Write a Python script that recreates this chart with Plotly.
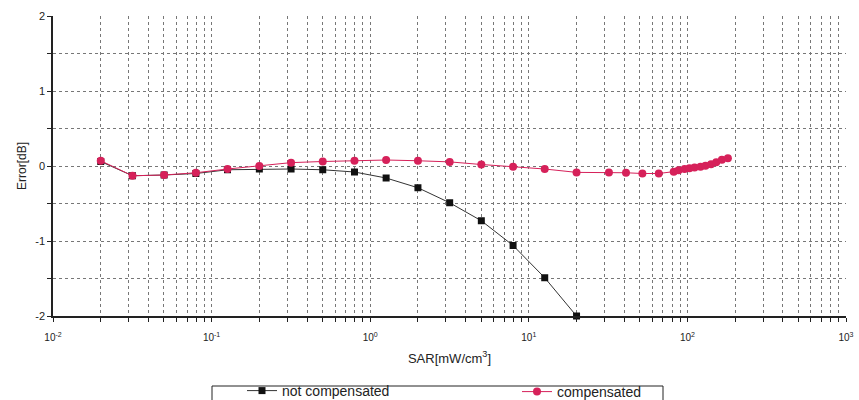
import plotly.graph_objects as go

# ---- data ----
sar_not_comp = [0.02, 0.0317, 0.0502, 0.0796, 0.126, 0.2, 0.317, 0.502, 0.796,
                1.26, 2.0, 3.17, 5.02, 7.96, 12.6, 20.0]
err_not_comp = [0.06, -0.13, -0.12, -0.10, -0.05, -0.04, -0.04, -0.05, -0.08,
                -0.16, -0.29, -0.49, -0.73, -1.06, -1.49, -2.0]

sar_comp = [0.02, 0.0317, 0.0502, 0.0796, 0.126, 0.2, 0.317, 0.502, 0.796,
            1.26, 2.0, 3.17, 5.02, 7.96, 12.6, 20.0, 32, 41, 52, 66,
            82, 88, 96, 103, 111, 121, 130, 141, 152, 165, 180]
err_comp = [0.07, -0.13, -0.12, -0.09, -0.04, 0.0, 0.045, 0.06, 0.07,
            0.08, 0.07, 0.055, 0.02, -0.01, -0.04, -0.085, -0.085, -0.09, -0.10, -0.10,
            -0.075, -0.057, -0.04, -0.03, -0.02, -0.01, 0.005, 0.025, 0.05, 0.085, 0.105]

x_decades = [-2, -1, 0, 1, 2, 3]
y_labels = ["-2", "", "-1", "", "0", "", "1", "", "2"]
y_ticks = [-2, -1.5, -1, -0.5, 0, 0.5, 1, 1.5, 2]
y_grid = [-1.5, -1, -0.5, 0, 0.5, 1, 1.5]

# ---- build tick lists ----
x_tickvals, x_ticktext = [], []
for k in x_decades[:-1]:
    for m in range(1, 10):
        x_tickvals.append(m * 10.0 ** k)
        x_ticktext.append("10<sup>%d</sup>" % k if m == 1 else "")
x_tickvals.append(10.0 ** x_decades[-1])
x_ticktext.append("10<sup>%d</sup>" % x_decades[-1])

FONT = "Liberation Sans, Arial, sans-serif"
RED = "#d6215a"

# plot-area geometry in px (for paper-coordinate conversions)
W, H = 859, 400
L, R, T, B = 53, 13, 16, 84
PW, PH = W - L - R, H - T - B


def px_x(px):
    return (px - L) / PW


def px_y(py):
    return (H - B - py) / PH


fig = go.Figure()

# hidden trace on main y (grid-only axis)
fig.add_trace(go.Scatter(x=[sar_comp[0]], y=[err_comp[0]], mode="markers",
                         marker=dict(opacity=0), showlegend=False,
                         hoverinfo="skip", yaxis="y"))

fig.add_trace(go.Scatter(
    x=sar_not_comp, y=err_not_comp, mode="lines+markers", name="not compensated",
    line=dict(color="#333333", width=1),
    marker=dict(symbol="square", size=7, color="#111111"),
    yaxis="y2", cliponaxis=False, legend="legend"))

fig.add_trace(go.Scatter(
    x=sar_comp, y=err_comp, mode="lines+markers", name="compensated",
    line=dict(color=RED, width=1),
    marker=dict(symbol="circle", size=8, color=RED),
    yaxis="y2", cliponaxis=False, legend="legend2"))

grid_style = dict(gridcolor="#777777", gridwidth=1, griddash="dot")

leg_common = dict(font=dict(size=14), bgcolor="rgba(0,0,0,0)", borderwidth=0,
                  itemwidth=30, xanchor="left", yanchor="top")

fig.update_layout(
    width=W, height=H,
    margin=dict(l=L, r=R, t=T, b=B, autoexpand=False),
    paper_bgcolor="white", plot_bgcolor="white",
    font=dict(family=FONT, color="#222222", size=11),
    xaxis=dict(
        type="log", range=[x_decades[0], x_decades[-1]],
        tickmode="array", tickvals=x_tickvals, ticktext=x_ticktext,
        showgrid=True, **grid_style,
        showline=True, linecolor="#222222", linewidth=1.5,
        ticks="outside", ticklen=4, tickcolor="#222222",
        tickfont=dict(size=10), ticklabeloverflow="allow",
        ticklabelstandoff=7,
        zeroline=False,
        title=dict(text="SAR[mW/cm<sup>3</sup>]", font=dict(size=13), standoff=12),
    ),
    yaxis=dict(
        range=[-2, 2], tickmode="array", tickvals=y_grid,
        showticklabels=False, ticks="", showline=False, zeroline=False,
        showgrid=True, **grid_style,
    ),
    yaxis2=dict(
        overlaying="y", side="left", range=[-2, 2],
        tickmode="array", tickvals=y_ticks, ticktext=y_labels,
        showgrid=False, zeroline=False,
        showline=True, linecolor="#222222", linewidth=1.5,
        ticks="outside", ticklen=4, tickcolor="#222222",
        tickfont=dict(size=11),
        title=dict(text="Error[dB]", font=dict(size=12), standoff=6),
    ),
    legend=dict(x=px_x(242), y=px_y(375), **leg_common),
    legend2=dict(x=px_x(517), y=px_y(376), **leg_common),
    shapes=[dict(type="rect", xref="paper", yref="paper",
                 x0=px_x(212), x1=px_x(663),
                 y0=px_y(386), y1=px_y(404),
                 line=dict(color="#222222", width=1), layer="above")],
)

fig.write_html("out.html",
               config={"displayModeBar": False},
               post_script="document.body.style.margin='0';"
                           "document.body.style.overflow='hidden';")
